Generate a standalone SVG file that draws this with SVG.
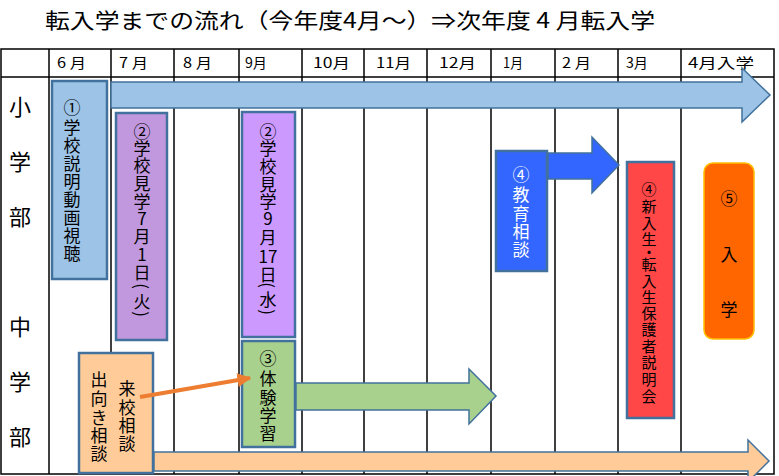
<svg xmlns="http://www.w3.org/2000/svg" width="779" height="476" viewBox="0 0 779 476">
<style>
text{font-family:"Noto Sans CJK JP","Noto Sans",sans-serif;fill:#000;}
.t{font-size:21px;}
.h{font-size:14px;}
.row{font-size:22px;text-anchor:middle;dominant-baseline:central;}
.v{font-size:17px;text-anchor:middle;dominant-baseline:central;}
.vs{font-size:15px;text-anchor:middle;dominant-baseline:central;}
.grid{stroke:#000;stroke-width:1.5;fill:none;}
.box{stroke:#41719C;stroke-width:2.5;}
.arr{stroke:#41719C;stroke-width:1.5;}
</style>
<defs>
<marker id="oh" viewBox="0 0 10 10" refX="9" refY="5" markerWidth="3.5" markerHeight="3.5" orient="auto" markerUnits="strokeWidth">
<path d="M0,0 L10,5 L0,10 z" fill="#ED7D31"/>
</marker>
</defs>
<rect width="779" height="476" fill="#fff"/>
<text class="t" x="45" y="28" textLength="610" lengthAdjust="spacingAndGlyphs">転入学までの流れ（今年度4月～）⇒次年度 4 月転入学</text>
<g id="grid">
<rect class="grid" x="1" y="49" width="773" height="425"/>
<line class="grid" x1="1" y1="77" x2="774" y2="77"/>
<line class="grid" x1="49" y1="49" x2="49" y2="474"/>
<line class="grid" x1="111" y1="49" x2="111" y2="474"/>
<line class="grid" x1="174" y1="49" x2="174" y2="474"/>
<line class="grid" x1="239" y1="49" x2="239" y2="474"/>
<line class="grid" x1="302" y1="49" x2="302" y2="474"/>
<line class="grid" x1="364" y1="49" x2="364" y2="474"/>
<line class="grid" x1="427" y1="49" x2="427" y2="474"/>
<line class="grid" x1="491" y1="49" x2="491" y2="474"/>
<line class="grid" x1="555" y1="49" x2="555" y2="474"/>
<line class="grid" x1="618" y1="49" x2="618" y2="474"/>
<line class="grid" x1="681" y1="49" x2="681" y2="474"/>
<text class="h" x="57" y="68" textLength="29" lengthAdjust="spacingAndGlyphs">6 月</text>
<text class="h" x="119" y="68" textLength="29" lengthAdjust="spacingAndGlyphs">7 月</text>
<text class="h" x="183" y="68" textLength="29" lengthAdjust="spacingAndGlyphs">8 月</text>
<text class="h" x="245" y="68" textLength="22" lengthAdjust="spacingAndGlyphs">9月</text>
<text class="h" x="313" y="68" textLength="37" lengthAdjust="spacingAndGlyphs">10月</text>
<text class="h" x="376" y="68" textLength="35" lengthAdjust="spacingAndGlyphs">11月</text>
<text class="h" x="439" y="68" textLength="37" lengthAdjust="spacingAndGlyphs">12月</text>
<text class="h" x="503" y="68" textLength="20" lengthAdjust="spacingAndGlyphs">1月</text>
<text class="h" x="562" y="68" textLength="29" lengthAdjust="spacingAndGlyphs">2 月</text>
<text class="h" x="626" y="68" textLength="22" lengthAdjust="spacingAndGlyphs">3月</text>
<text class="h" x="688" y="68" textLength="66" lengthAdjust="spacingAndGlyphs">4月入学</text>
<text class="row" x="20" y="105">小</text>
<text class="row" x="20" y="160">学</text>
<text class="row" x="20" y="215">部</text>
<text class="row" x="20" y="325">中</text>
<text class="row" x="20" y="380">学</text>
<text class="row" x="20" y="435">部</text>
</g>
<g id="n1">
<rect class="box" x="52" y="81" width="55" height="198" fill="#9DC3E6"/>
<text class="v"><tspan x="72" y="106">①</tspan><tspan x="72" y="126">学</tspan><tspan x="72" y="144">校</tspan><tspan x="72" y="162">説</tspan><tspan x="72" y="180">明</tspan><tspan x="72" y="198">動</tspan><tspan x="72" y="216">画</tspan><tspan x="72" y="234">視</tspan><tspan x="72" y="252">聴</tspan></text>
</g>
<g id="n2a">
<rect class="box" x="116" y="113" width="51" height="227" fill="#C198DD"/>
<text class="v"><tspan x="142" y="130">②</tspan><tspan x="142" y="147">学</tspan><tspan x="142" y="164">校</tspan><tspan x="142" y="182">見</tspan><tspan x="142" y="200">学</tspan><tspan x="142" y="217">7</tspan><tspan x="142" y="235">月</tspan><tspan x="142" y="253">1</tspan><tspan x="142" y="271">日</tspan><tspan x="142" y="300">火</tspan></text>
<text class="v" transform="rotate(90 142 286)" x="142" y="286">(</text>
<text class="v" transform="rotate(90 142 314)" x="142" y="314">)</text>
</g>
<g id="n2b">
<rect class="box" x="242" y="112" width="53" height="225" fill="#CC99FF"/>
<text class="v"><tspan x="268" y="130">②</tspan><tspan x="268" y="147">学</tspan><tspan x="268" y="165">校</tspan><tspan x="268" y="183">見</tspan><tspan x="268" y="200">学</tspan><tspan x="268" y="217">9</tspan><tspan x="268" y="236">月</tspan><tspan x="268" y="255">17</tspan><tspan x="268" y="273">日</tspan><tspan x="268" y="298">水</tspan></text>
<text class="v" transform="rotate(90 268 285)" x="268" y="285">(</text>
<text class="v" transform="rotate(90 268 312)" x="268" y="312">)</text>
</g>
<g id="n3">
<rect class="box" x="242" y="341" width="53" height="106" fill="#A9D18E"/>
<text class="v"><tspan x="268" y="357">③</tspan><tspan x="268" y="377">体</tspan><tspan x="268" y="396">験</tspan><tspan x="268" y="414">学</tspan><tspan x="268" y="432">習</tspan></text>
</g>
<g id="n-soudan">
<rect class="box" x="79" y="353" width="74" height="120" fill="#FFCC99"/>
<text class="v"><tspan x="99" y="378">出</tspan><tspan x="99" y="397">向</tspan><tspan x="99" y="416">き</tspan><tspan x="99" y="434">相</tspan><tspan x="99" y="452">談</tspan></text>
<text class="v"><tspan x="127" y="387">来</tspan><tspan x="127" y="406">校</tspan><tspan x="127" y="424">相</tspan><tspan x="127" y="442">談</tspan></text>
</g>
<g id="n4a">
<rect class="box" x="496" y="151" width="51" height="120" fill="#3366FF"/>
<text class="v" style="fill:#fff"><tspan x="521" y="173">④</tspan><tspan x="521" y="193">教</tspan><tspan x="521" y="212">育</tspan><tspan x="521" y="230">相</tspan><tspan x="521" y="248">談</tspan></text>
</g>
<g id="n4b">
<rect class="box" x="627" y="162" width="47" height="256" fill="#FF4747"/>
<text class="vs"><tspan x="649" y="188">④</tspan><tspan x="649" y="205">新</tspan><tspan x="649" y="222">入</tspan><tspan x="649" y="238">生</tspan><tspan x="649" y="251">・</tspan><tspan x="649" y="263">転</tspan><tspan x="649" y="280">入</tspan><tspan x="649" y="296">生</tspan><tspan x="649" y="312">保</tspan><tspan x="649" y="328">護</tspan><tspan x="649" y="345">者</tspan><tspan x="649" y="361">説</tspan><tspan x="649" y="378">明</tspan><tspan x="649" y="395">会</tspan></text>
</g>
<g id="n5">
<rect x="704" y="163" width="50" height="176" rx="9" fill="#FF6600" stroke="#FFC000" stroke-width="1.5"/>
<text class="v"><tspan x="729" y="197">⑤</tspan><tspan x="729" y="253">入</tspan><tspan x="729" y="308">学</tspan></text>
</g>
<g id="connectors">
<polygon id="arrow-elem" class="arr" fill="#9DC3E6" points="111,82 742,82 742,68 770,95 742,122 742,108 111,108"/>
<polygon id="arrow-jhs" class="arr" fill="#FFCC99" points="154,452 748,452 748,440 769,461 748,482 748,471 154,471"/>
<polygon id="arrow-taiken" class="arr" fill="#A9D18E" points="296,383 469,383 469,369 496,396 469,424 469,410 296,410"/>
<polygon id="arrow-kyoiku" class="arr" fill="#3366FF" stroke="#5B84C8" points="548,153 592,153 592,137 619,165 592,193 592,179 548,179"/>
<line id="arrow-raiko" x1="140" y1="397" x2="250" y2="378" stroke="#ED7D31" stroke-width="4" marker-end="url(#oh)"/>
</g>
</svg>
